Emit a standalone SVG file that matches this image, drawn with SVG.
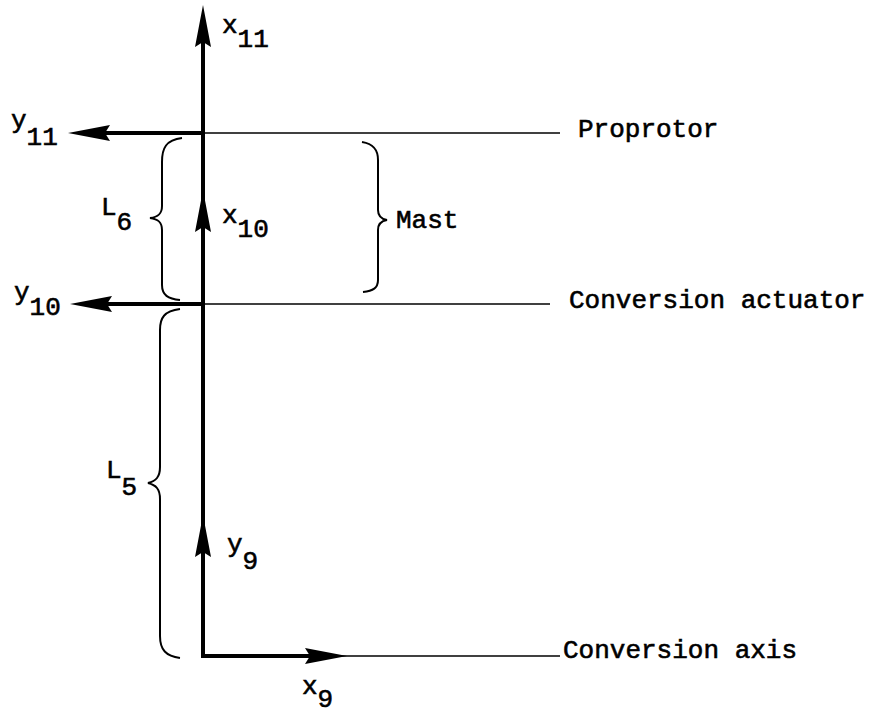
<svg xmlns="http://www.w3.org/2000/svg" width="878" height="715" viewBox="0 0 878 715">
<style>
.t{font-family:"Liberation Mono","Courier New",monospace;font-size:26px;fill:#000;stroke:#000;stroke-width:0.6}
.thick{stroke:#000;stroke-width:4;fill:none}
.thin{stroke:#000;stroke-width:1.5;fill:none}
.brace{stroke:#000;stroke-width:2;fill:none}
</style>
<defs>
<path id="ah" d="M0,0 L-42,-8 L-37,0 L-42,8 Z" fill="#000"/>
</defs>
<rect width="878" height="715" fill="#fff"/>
<g id="connectors">
<line class="thick" x1="203" y1="657" x2="203" y2="25"/>
<line class="thick" x1="203" y1="133" x2="88" y2="133"/>
<line class="thin" x1="203" y1="133" x2="560" y2="133"/>
<line class="thick" x1="203" y1="304" x2="90" y2="304"/>
<line class="thin" x1="203" y1="304" x2="550" y2="304"/>
<line class="thick" x1="201" y1="656" x2="325" y2="656"/>
<line class="thin" x1="325" y1="656" x2="560" y2="656"/>
<use href="#ah" transform="translate(203,5) rotate(-90)"/>
<use href="#ah" transform="translate(203,190) rotate(-90)"/>
<use href="#ah" transform="translate(203,515) rotate(-90)"/>
<use href="#ah" transform="translate(68,133) rotate(180)"/>
<use href="#ah" transform="translate(70,304) rotate(180)"/>
<use href="#ah" transform="translate(347,656)"/>
</g>
<g id="brace-L6">
<path class="brace" d="M182,138 C166,140 162,148 162,162 L162,206 C162,214 158,217 150,218 C158,219 162,222 162,230 L162,285 C162,295 168,299 180,300"/>
<text class="t" x="101" y="215">L<tspan dy="15">6</tspan></text>
</g>
<g id="brace-L5">
<path class="brace" d="M180,309 C164,311 160,318 160,330 L160,467 C160,477 156,481 148,483 C156,485 160,489 160,499 L160,636 C160,650 166,656 180,658"/>
<text class="t" x="106" y="478">L<tspan dy="17">5</tspan></text>
</g>
<g id="brace-Mast">
<path class="brace" d="M362,142 C374,144 378,150 378,160 L378,210 C378,216 381,219 387,220 C381,221 378,224 378,230 L378,280 C378,288 373,291 363,292"/>
<text class="t" x="396" y="228">Mast</text>
</g>
<g id="label-x11"><text class="t" x="222" y="33">x<tspan dy="14">11</tspan></text></g>
<g id="label-y11"><text class="t" x="11" y="128">y<tspan dy="17">11</tspan></text></g>
<g id="label-x10"><text class="t" x="222" y="223">x<tspan dy="14">10</tspan></text></g>
<g id="label-y10"><text class="t" x="14" y="300">y<tspan dy="15">10</tspan></text></g>
<g id="label-y9"><text class="t" x="227" y="552">y<tspan dy="17">9</tspan></text></g>
<g id="label-x9"><text class="t" x="302" y="694">x<tspan dy="13">9</tspan></text></g>
<g id="proprotor"><text class="t" x="578" y="137">Proprotor</text></g>
<g id="conversion-actuator"><text class="t" x="569" y="308">Conversion actuator</text></g>
<g id="conversion-axis"><text class="t" x="563" y="658">Conversion axis</text></g>
</svg>
